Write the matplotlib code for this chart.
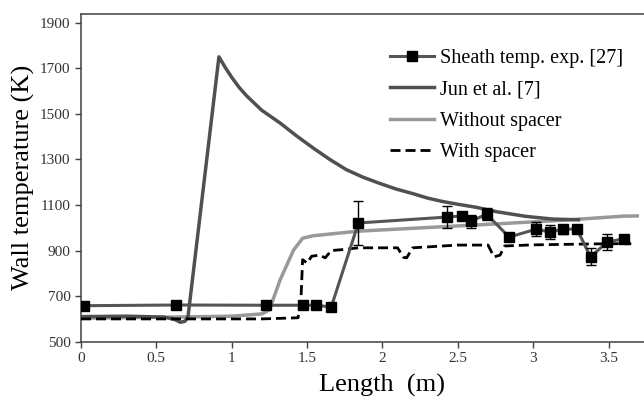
import numpy as np
import matplotlib
matplotlib.use("Agg")
import matplotlib.pyplot as plt

# ── data ──────────────────────────────────────────────────────────────────────
exp_x   = [0.02, 0.63, 1.23, 1.47, 1.56, 1.66, 1.84, 2.43, 2.53, 2.59, 2.69,
           2.84, 3.02, 3.11, 3.20, 3.29, 3.38, 3.49, 3.60]
exp_t   = [658, 661, 660, 660, 660, 652, 1021, 1047, 1052, 1029, 1060,
           959, 994, 981, 994, 994, 872, 937, 952]
exp_err = [0, 0, 0, 0, 0, 0, 95, 50, 0, 28, 25,
           15, 30, 30, 20, 15, 37, 35, 10]

jun_x = [0.0, 0.3, 0.55, 0.62, 0.66, 0.69, 0.71, 0.915, 0.96, 1.0, 1.05, 1.1,
         1.2, 1.32, 1.43, 1.54, 1.65, 1.76, 1.87, 1.98, 2.09, 2.2, 2.3, 2.4,
         2.5, 2.62, 2.76, 2.95, 3.13, 3.3]
jun_t = [610, 612, 608, 598, 585, 590, 610, 1750, 1700, 1660, 1615, 1578,
         1515, 1460, 1403, 1350, 1300, 1255, 1222, 1195, 1170, 1150, 1130, 1115,
         1103, 1090, 1070, 1050, 1038, 1035]

wo_x = [0.0, 0.6, 1.0, 1.2, 1.25, 1.32, 1.41, 1.47, 1.54, 1.84, 1.98, 2.5,
        2.84, 3.2, 3.6, 3.69]
wo_t = [603, 608, 612, 622, 640, 770, 902, 954, 965, 985, 990, 1008,
        1020, 1033, 1051, 1052]

w_x = [0.0, 0.7, 1.2, 1.44, 1.46, 1.47, 1.50, 1.53, 1.58, 1.62, 1.66, 1.75,
       1.84, 2.1, 2.14, 2.16, 2.2, 2.5, 2.70, 2.74, 2.78, 2.81, 3.0, 3.3,
       3.5, 3.65]
w_t = [600, 600, 600, 605, 700, 860, 845, 875, 880, 868, 900, 905,
       912, 912, 870, 868, 912, 924, 924, 872, 880, 920, 925, 928,
       930, 930]

# ── figure ────────────────────────────────────────────────────────────────────
plt.rcParams["font.family"] = ["Liberation Serif", "DejaVu Serif"]
fig = plt.figure(figsize=(6.44, 4.05), dpi=100)
ax = fig.add_axes([81 / 644, 1 - 341.7 / 405, 603 / 644, (341.7 - 14) / 405])

ax.plot(exp_x, exp_t, color="#555555", lw=2.2, marker="s", ms=7,
        mfc="black", mec="black", label="Sheath temp. exp. [27]", zorder=5)
ax.errorbar(exp_x, exp_t, yerr=exp_err, fmt="none", ecolor="black",
            elinewidth=1, capsize=3.5, capthick=1, zorder=6)
ax.plot(jun_x, jun_t, color="#505050", lw=2.5, label="Jun et al. [7]", zorder=3)
ax.plot(wo_x, wo_t, color="#999999", lw=2.5, label="Without spacer", zorder=2)
ax.plot(w_x, w_t, color="black", lw=2, ls=(0, (3.6, 1.8)), label="With spacer", zorder=4)

ax.set_xlim(0, 4.0)
ax.set_ylim(500, 1938)
ax.set_xticks([0, 0.5, 1, 1.5, 2, 2.5, 3, 3.5])
ax.set_xticklabels(["0", "0.5", "1", "1.5", "2", "2.5", "3", "3.5"])
ax.set_yticks(range(500, 2000, 200))
ax.tick_params(direction="out", length=4, width=1, labelsize=11,
               colors="#404040", labelcolor="#333333")
for s in ax.spines.values():
    s.set_edgecolor("#404040"); s.set_linewidth(1.1)

ax.set_xlabel("Length  (m)", fontsize=19, labelpad=6)
ax.set_ylabel("Wall temperature (K)", fontsize=19, labelpad=4)

leg = ax.legend(loc="upper left", bbox_to_anchor=(390 / 644, 1 - 48.5 / 405),
                bbox_transform=fig.transFigure, frameon=False, fontsize=14.5,
                handlelength=2.2, handletextpad=0.3, labelspacing=0.62,
                borderpad=0, borderaxespad=0)

plt.savefig("out.png", dpi=100)
